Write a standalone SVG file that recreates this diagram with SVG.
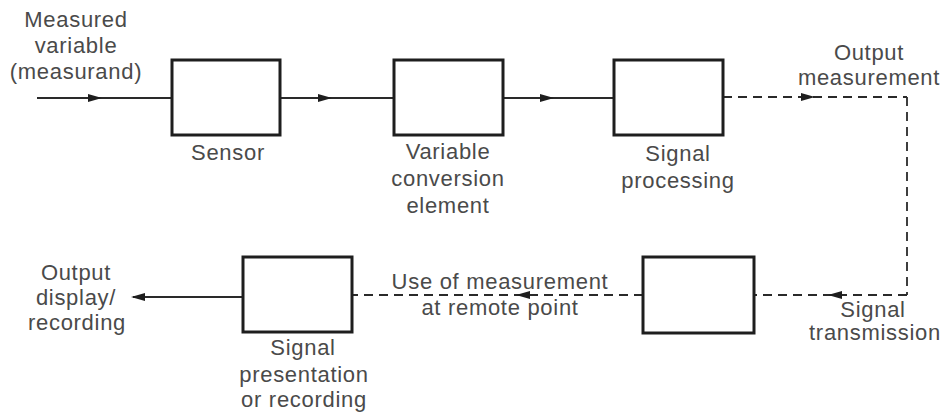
<svg xmlns="http://www.w3.org/2000/svg" width="949" height="414" viewBox="0 0 949 414">
<style>
text{font-family:"Liberation Sans",Arial,sans-serif;font-size:22px;fill:#4a4a4a;text-anchor:middle;letter-spacing:0.7px}
.box{fill:#fff;stroke:#1e1e1e;stroke-width:3}
.solid{fill:none;stroke:#2a2a2a;stroke-width:2}
.dash{fill:none;stroke:#2a2a2a;stroke-width:1.8;stroke-dasharray:9 6}
</style>
<defs>
<marker id="ah" viewBox="0 0 14 10" refX="12" refY="5" markerWidth="14" markerHeight="10" markerUnits="userSpaceOnUse" orient="auto">
<path d="M0,1 L14,5 L0,9 Z" fill="#1e1e1e"/>
</marker>
</defs>
<rect width="949" height="414" fill="#fff"/>
<g id="connectors">
<path class="solid" d="M37,98 L100,98 L172,98" marker-mid="url(#ah)"/>
<path class="solid" d="M280,98 L330,98 L394,98" marker-mid="url(#ah)"/>
<path class="solid" d="M503,98 L552,98 L614,98" marker-mid="url(#ah)"/>
<path class="dash" d="M723,97 L813,97 L907,97" marker-mid="url(#ah)"/>
<path class="dash" d="M907,97 L907,295"/>
<path class="dash" d="M907,295 L830,295 L755,295" marker-mid="url(#ah)"/>
<path class="dash" d="M643,295 L518,295 L352,295" marker-mid="url(#ah)"/>
<path class="solid" d="M243,297 L133,297" marker-end="url(#ah)"/>
</g>
<g id="measurand">
<text x="76" y="27">Measured</text>
<text x="76" y="53">variable</text>
<text x="76" y="79">(measurand)</text>
</g>
<g id="sensor">
<rect class="box" x="172" y="60" width="108" height="75"/>
<text x="228" y="160">Sensor</text>
</g>
<g id="variable-conversion">
<rect class="box" x="394" y="60" width="109" height="75"/>
<text x="448" y="159">Variable</text>
<text x="448" y="186">conversion</text>
<text x="448" y="213">element</text>
</g>
<g id="signal-processing">
<rect class="box" x="614" y="60" width="109" height="75"/>
<text x="678" y="161">Signal</text>
<text x="678" y="188">processing</text>
</g>
<g id="output-measurement">
<text x="869" y="60">Output</text>
<text x="869" y="85">measurement</text>
</g>
<g id="signal-transmission">
<rect class="box" x="643" y="257" width="111" height="76"/>
<text x="873" y="317">Signal</text>
<text x="875" y="340">transmission</text>
</g>
<g id="remote-use">
<text x="500" y="289">Use of measurement</text>
<text x="500" y="315">at remote point</text>
</g>
<g id="signal-presentation">
<rect class="box" x="243" y="257" width="109" height="75"/>
<text x="303" y="355">Signal</text>
<text x="304" y="382">presentation</text>
<text x="304" y="407">or recording</text>
</g>
<g id="output-display">
<text x="76" y="280">Output</text>
<text x="76" y="305">display/</text>
<text x="77" y="330">recording</text>
</g>
</svg>
